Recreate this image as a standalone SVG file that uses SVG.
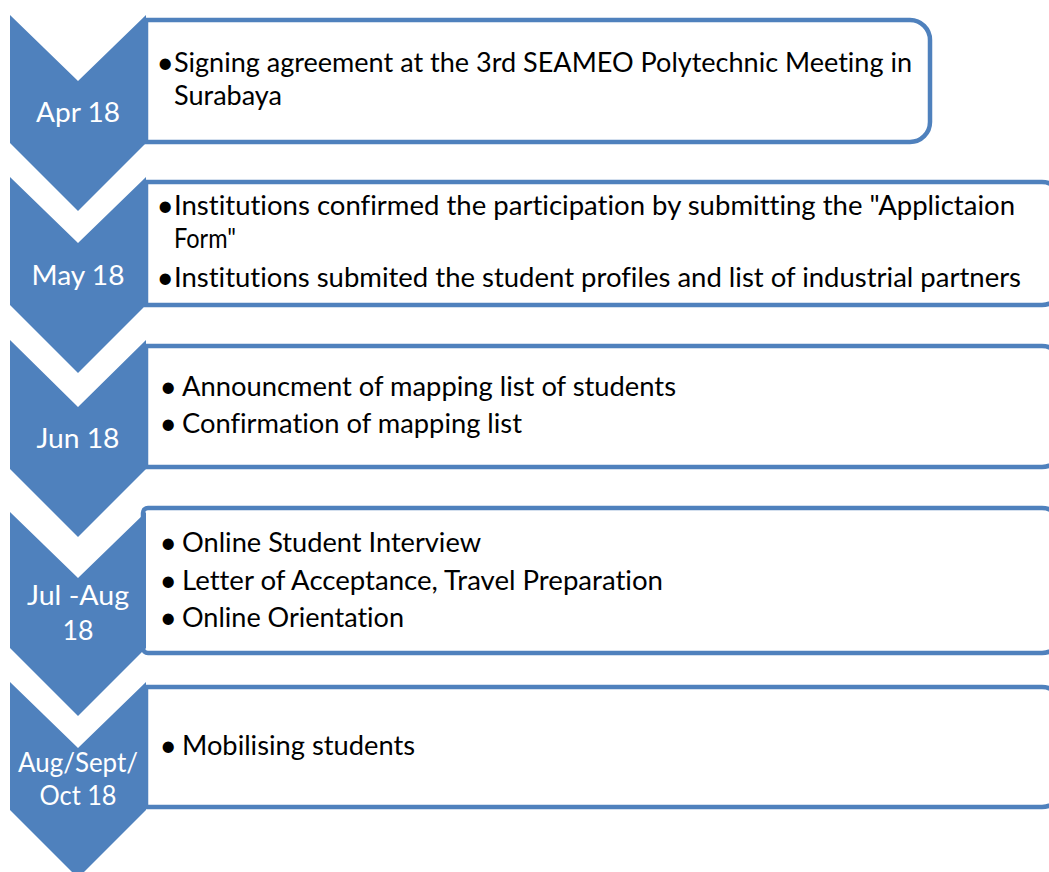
<svg xmlns="http://www.w3.org/2000/svg" width="1049" height="872" viewBox="0 0 1049 872">
<style>
.box{fill:#fff;stroke:#4F81BD;stroke-width:4.5}
.chev{fill:#4F81BD}
text{font-family:Lato,"Liberation Sans",sans-serif;font-size:26px;font-variant-ligatures:none}
.lab{fill:#fff;text-anchor:middle}
.t{fill:#000}
.b{fill:#000;font-size:30px;text-anchor:end}
</style>
<rect width="1049" height="872" fill="#fff"/>
<g id="node1">
<path class="box" d="M146,20 H910 A20,20 0 0 1 930,40 V122 A20,20 0 0 1 910,142 H146 Z"/>
<path class="chev" d="M10,15 L78,81 L146,15 V143 L78,211 L10,143 Z"/>
<text class="lab" x="78" y="122" textLength="84" lengthAdjust="spacingAndGlyphs">Apr 18</text>
<text class="b" x="174" y="73">•</text>
<text class="t" x="174" y="72" textLength="738" lengthAdjust="spacingAndGlyphs">Signing agreement at the 3rd SEAMEO Polytechnic Meeting in</text>
<text class="t" x="174" y="105" textLength="108" lengthAdjust="spacingAndGlyphs">Surabaya</text>
</g>
<g id="node2">
<path class="box" d="M146,182 H1042 A20,20 0 0 1 1062,202 V285 A20,20 0 0 1 1042,305 H146 Z"/>
<path class="chev" d="M10,177 L78,243 L146,177 V305 L78,373 L10,305 Z"/>
<text class="lab" x="78" y="285" textLength="93" lengthAdjust="spacingAndGlyphs">May 18</text>
<text class="b" x="174" y="216">•</text>
<text class="t" x="174" y="215" textLength="841" lengthAdjust="spacingAndGlyphs">Institutions confirmed the participation by submitting the "Applictaion</text>
<text class="t" x="174" y="248" textLength="62" lengthAdjust="spacingAndGlyphs">Form"</text>
<text class="b" x="174" y="288">•</text>
<text class="t" x="174" y="287" textLength="847" lengthAdjust="spacingAndGlyphs">Institutions submited the student profiles and list of industrial partners</text>
</g>
<g id="node3">
<path class="box" d="M146,346 H1042 A20,20 0 0 1 1062,366 V447 A20,20 0 0 1 1042,467 H146 Z"/>
<path class="chev" d="M10,340 L78,407 L146,340 V469 L78,537 L10,469 Z"/>
<text class="lab" x="78" y="448" textLength="83" lengthAdjust="spacingAndGlyphs">Jun 18</text>
<text class="b" x="177" y="397">•</text>
<text class="t" x="182" y="396" textLength="494" lengthAdjust="spacingAndGlyphs">Announcment of mapping list of students</text>
<text class="b" x="177" y="434">•</text>
<text class="t" x="182" y="433" textLength="340" lengthAdjust="spacingAndGlyphs">Confirmation of mapping list</text>
</g>
<g id="node4">
<path class="box" d="M143,513 A5,5 0 0 1 148,508 H1042 A20,20 0 0 1 1062,528 V633 A20,20 0 0 1 1042,653 H148 A5,5 0 0 1 143,648 Z"/>
<path class="chev" d="M10,512 L78,578 L146,512 V648 L78,716 L10,648 Z"/>
<text class="lab" x="78" y="605" textLength="102" lengthAdjust="spacingAndGlyphs">Jul -Aug</text>
<text class="lab" x="78" y="640" textLength="31" lengthAdjust="spacingAndGlyphs">18</text>
<text class="b" x="177" y="553">•</text>
<text class="t" x="182" y="552" textLength="299" lengthAdjust="spacingAndGlyphs">Online Student Interview</text>
<text class="b" x="177" y="591">•</text>
<text class="t" x="182" y="590" textLength="481" lengthAdjust="spacingAndGlyphs">Letter of Acceptance, Travel Preparation</text>
<text class="b" x="177" y="628">•</text>
<text class="t" x="182" y="627" textLength="222" lengthAdjust="spacingAndGlyphs">Online Orientation</text>
</g>
<g id="node5">
<path class="box" d="M146,687 H1042 A20,20 0 0 1 1062,707 V787 A20,20 0 0 1 1042,807 H146 Z"/>
<path class="chev" d="M10,682 L78,748 L146,682 V810 L78,878 L10,810 Z"/>
<text class="lab" x="78" y="772" textLength="120" lengthAdjust="spacingAndGlyphs">Aug/Sept/</text>
<text class="lab" x="78" y="805" textLength="77" lengthAdjust="spacingAndGlyphs">Oct 18</text>
<text class="b" x="177" y="756">•</text>
<text class="t" x="182" y="755" textLength="233" lengthAdjust="spacingAndGlyphs">Mobilising students</text>
</g>
<g id="connectors"/>
</svg>
